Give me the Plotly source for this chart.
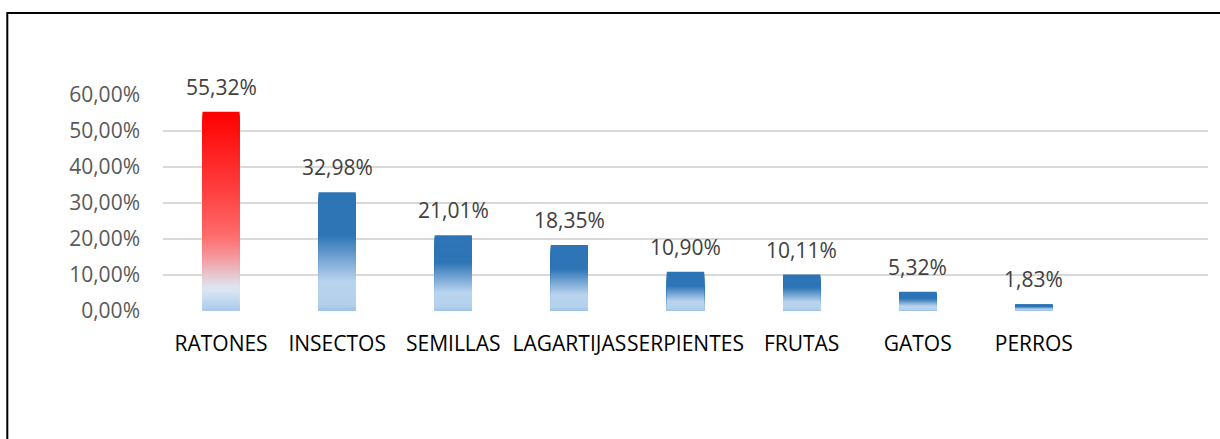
import plotly.graph_objects as go

# categories and values (percent)
categorias = ["RATONES", "INSECTOS", "SEMILLAS", "LAGARTIJAS", "SERPIENTES",
              "FRUTAS", "GATOS", "PERROS"]
valores = [55.32, 32.98, 21.01, 18.35, 10.90, 10.11, 5.32, 1.83]
etiquetas = ["55,32%", "32,98%", "21,01%", "18,35%", "10,90%", "10,11%", "5,32%", "1,83%"]
ticks_y = [0, 10, 20, 30, 40, 50, 60]
ticks_y_txt = ["0,00%", "10,00%", "20,00%", "30,00%", "40,00%", "50,00%", "60,00%"]

# gradient stops, t = 0 at bottom of the bar, 1 at top
rojo = [(0, "#A9C8EA"), (0.06, "#C5DAF0"), (0.11, "#DDE7F3"), (0.18, "#E6C8D0"),
        (0.27, "#F4989E"), (0.38, "#FF6B6B"), (0.6, "#FF4040"), (1, "#FF0000")]
azul = [(0, "#9DC3E6"), (0.06, "#B4D1EC"), (0.25, "#B8D3EE"), (0.64, "#2E75B6"),
        (1, "#2E75B6")]


def hex2rgb(h):
    return tuple(int(h[i:i + 2], 16) for i in (1, 3, 5))


def color_en(stops, t):
    for (t0, c0), (t1, c1) in zip(stops[:-1], stops[1:]):
        if t <= t1:
            f = (t - t0) / (t1 - t0) if t1 > t0 else 0
            a, b = hex2rgb(c0), hex2rgb(c1)
            return "rgb(%d,%d,%d)" % tuple(round(a[i] + (b[i] - a[i]) * f) for i in range(3))
    return stops[-1][1]


N = 80
fig = go.Figure()

# overlaid bars, tallest first, each one a bit shorter -> vertical gradient
for k in range(N):
    frac = (N - k) / N
    t_mid = (N - k - 0.5) / N
    cols = [color_en(rojo if i == 0 else azul, t_mid) for i in range(len(categorias))]
    fig.add_trace(go.Bar(
        x=categorias, y=[v * frac for v in valores],
        width=0.32, marker=dict(color=cols, line=dict(width=0)),
        hoverinfo="skip", showlegend=False,
    ))

for c, v, e in zip(categorias, valores, etiquetas):
    fig.add_annotation(x=c, y=v, text=e, showarrow=False, yshift=25,
                       font=dict(family="Open Sans", size=21, color="#404040"))

fig.update_layout(
    barmode="overlay",
    width=1220, height=439,
    margin=dict(l=163, r=12, t=95, b=128),
    paper_bgcolor="white", plot_bgcolor="white",
    font=dict(family="Open Sans", size=21, color="#595959"),
    xaxis=dict(
        categoryorder="array", categoryarray=categorias + [" "],
        range=[-0.5, 8.5], tickangle=0, showgrid=False,
        showline=False, zeroline=False,
        tickfont=dict(color="black", size=21, family="Open Sans"),
        ticklabelstandoff=18,
    ),
    yaxis=dict(
        range=[0, 60], tickvals=ticks_y, ticktext=ticks_y_txt,
        showgrid=True, gridcolor="#D9D9D9", gridwidth=2,
        zeroline=False, showline=False, ticklabelstandoff=22,
        tickfont=dict(color="#595959", size=21, family="Open Sans"),
    ),
    shapes=[dict(type="rect", xref="paper", yref="paper",
                 x0=-0.149, x1=1.02, y0=-0.65, y1=1.3796,
                 line=dict(color="black", width=2), layer="below")],
)

fig.write_html("out.html", config={"displayModeBar": False},
               post_script="document.body.style.margin='0px';")
